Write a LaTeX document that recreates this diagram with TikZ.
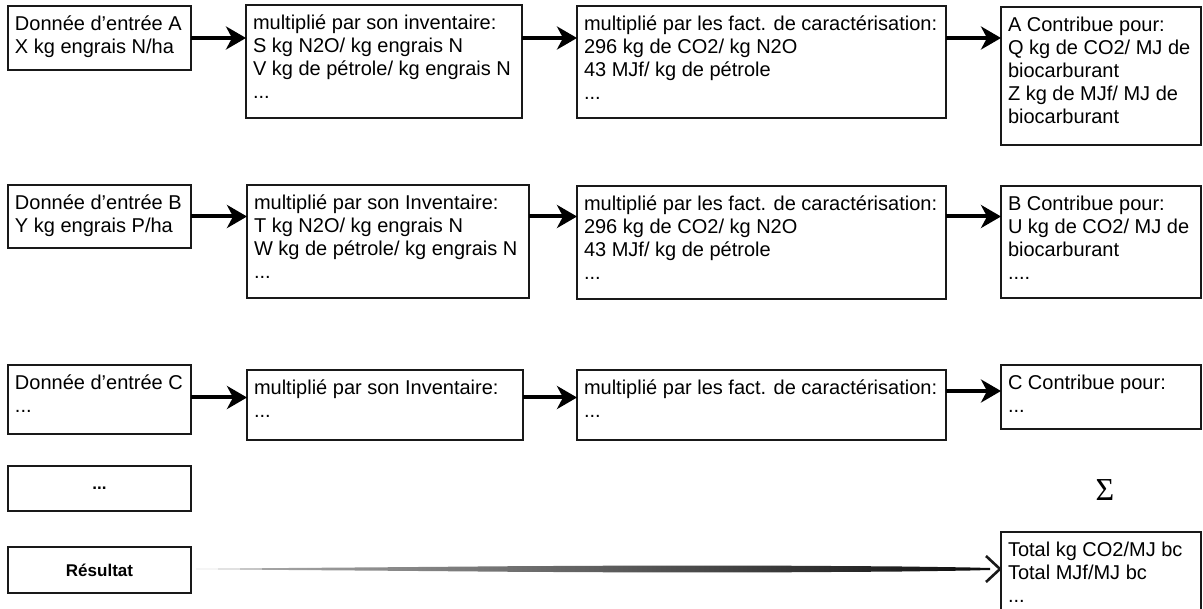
\documentclass[tikz,border=0pt]{standalone}
\usepackage{fontspec}
\setmainfont{Liberation Sans}
\newfontfamily\sigfont{Liberation Serif}
\usetikzlibrary{arrows.meta,calc}
\newdimen\mybxw
\newcommand\myline[1]{\hbox to \mybxw{\hspace{7pt}\strut #1\hss}}
\newcommand\boxtxt[3]{\mybxw=#1pt\relax\parbox[c][#2pt][t]{#1pt}{\vspace*{8.9pt}#3\vfil}}
\begin{document}
\begin{tikzpicture}[x=1pt,y=-1pt,
  box/.style={draw=black!90, line width=1.3pt, inner sep=0pt, outer sep=0pt, anchor=north west, font=\fontsize{20}{23}\selectfont},
  arr/.style={line width=4pt, -{Stealth[length=20pt,width=23pt,inset=6pt]}}]
\useasboundingbox (0,0) rectangle (1203,609);
% row A
\node[box] (a1) at (8,6) {\boxtxt{183}{64}{\myline{Donnée d’entrée A}\myline{X kg engrais N/ha}}};
\node[box] (a2) at (246,5) {\boxtxt{276}{113}{\myline{multiplié par son inventaire:}\myline{S kg N2O/ kg engrais N}\myline{V kg de pétrole/ kg engrais N}\myline{...}}};
\node[box] (a3) at (577,6) {\boxtxt{369}{112}{\myline{multiplié par les fact. de caractérisation:}\myline{296 kg de CO2/ kg N2O}\myline{43 MJf/ kg de pétrole}\myline{...}}};
\node[box] (a4) at (1001,7) {\boxtxt{200}{138}{\myline{A Contribue pour:}\myline{Q kg de CO2/ MJ de}\myline{biocarburant}\myline{Z kg de MJf/ MJ de}\myline{biocarburant}}};
% row B
\node[box] (b1) at (8,185) {\boxtxt{183}{63}{\myline{Donnée d’entrée B}\myline{Y kg engrais P/ha}}};
\node[box] (b2) at (247,185) {\boxtxt{282}{113}{\myline{multiplié par son Inventaire:}\myline{T kg N2O/ kg engrais N}\myline{W kg de pétrole/ kg engrais N}\myline{...}}};
\node[box] (b3) at (577,186) {\boxtxt{369}{113}{\myline{multiplié par les fact. de caractérisation:}\myline{296 kg de CO2/ kg N2O}\myline{43 MJf/ kg de pétrole}\myline{...}}};
\node[box] (b4) at (1001,186) {\boxtxt{200}{112}{\myline{B Contribue pour:}\myline{U kg de CO2/ MJ de}\myline{biocarburant}\myline{....}}};
% row C
\node[box] (c1) at (8,365) {\boxtxt{183}{69}{\myline{Donnée d’entrée C}\myline{...}}};
\node[box] (c2) at (247,370) {\boxtxt{276}{70}{\myline{multiplié par son Inventaire:}\myline{...}}};
\node[box] (c3) at (577,370) {\boxtxt{369}{70}{\myline{multiplié par les fact. de caractérisation:}\myline{...}}};
\node[box] (c4) at (1001,365) {\boxtxt{200}{64}{\myline{C Contribue pour:}\myline{...}}};
% dots, result
\node[box, minimum width=183pt, minimum height=45pt, font=\fontsize{17}{20}\selectfont\bfseries] (d) at (8,466) {...};
\node[box, minimum width=183pt, minimum height=46pt, font=\fontsize{17}{20}\selectfont\bfseries] (r) at (8,547) {Résultat};
\node[box] (t) at (1001,532) {\boxtxt{200}{95}{\myline{Total kg CO2/MJ bc}\myline{Total MJf/MJ bc}\myline{...}}};
\node[font=\sigfont\fontsize{32}{32}\selectfont] (sig) at (1105,490) {Σ};
% arrows
\draw[arr] (a1.east) -- (a1.east -| a2.west);
\draw[arr] (a2.east |- a1.east) -- (a1.east -| a3.west);
\draw[arr] (a3.east |- a1.east) -- (a1.east -| a4.west);
\draw[arr] (b1.east) -- (b1.east -| b2.west);
\draw[arr] (b2.east |- b1.east) -- (b1.east -| b3.west);
\draw[arr] (b3.east |- b1.east) -- (b1.east -| b4.west);
\coordinate (c1o) at ($(c1.east)+(0,-2)$);
\draw[arr] (c1o) -- (c1o -| c2.west);
\draw[arr] (c2.east |- c1o) -- (c1o -| c3.west);
\coordinate (c4in) at ($(c4.north west)+(0,26)$);
\draw[arr] (c3.east |- c4in) -- (c4in);
% brush arrow
\coordinate (rs) at ($(r.east)+(5,-1)$);
\coordinate (tip) at ($(t.west |- r.east)+(-1,-1)$);
\coordinate (re) at ($(tip)+(-10,0)$);
\shade[left color=black!30, right color=black!95]
  (rs) -- ($(rs)!0.1!(re)+(0,-0.9)$) -- ($(rs)!0.25!(re)+(0,-1.8)$) -- ($(rs)!0.4!(re)+(0,-2.8)$)
  -- ($(rs)!0.55!(re)+(0,-3.4)$) -- ($(rs)!0.72!(re)+(0,-3.4)$) -- ($(rs)!0.88!(re)+(0,-2.6)$)
  -- ($(rs)!0.97!(re)+(0,-1.6)$) -- ($(re)+(0,-1)$) -- ($(re)+(0,1)$)
  -- ($(rs)!0.97!(re)+(0,1.6)$) -- ($(rs)!0.88!(re)+(0,2.6)$) -- ($(rs)!0.72!(re)+(0,3.4)$)
  -- ($(rs)!0.55!(re)+(0,3.4)$) -- ($(rs)!0.4!(re)+(0,2.8)$) -- ($(rs)!0.25!(re)+(0,1.8)$)
  -- ($(rs)!0.1!(re)+(0,0.9)$) -- cycle;
\draw[line width=2.6pt, line join=miter, black!90] ($(tip)+(-14,-13)$) -- (tip) -- ($(tip)+(-14,13)$);
\end{tikzpicture}
\end{document}
